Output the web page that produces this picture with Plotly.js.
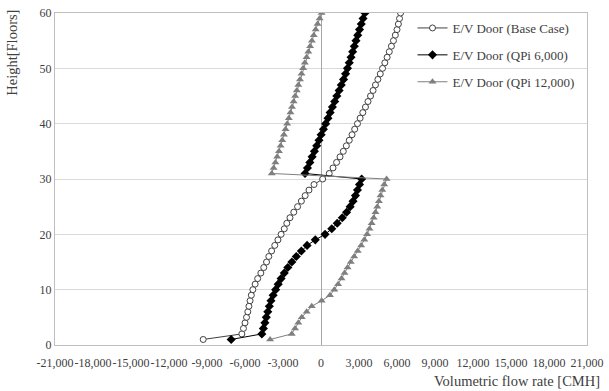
<!DOCTYPE html>
<html>
<head>
<meta charset="utf-8">
<script src="https://cdn.plot.ly/plotly-3.0.1.min.js"></script>
<style>
  html, body { margin: 0; padding: 0; background: #fff; }
  #chart { width: 609px; height: 391px; }
</style>
</head>
<body>
<div id="chart"></div>
<script>
// Floor numbers 1..60
const floors = [];
for (let f = 1; f <= 60; f++) floors.push(f);

// Volumetric flow rate through the E/V doors on each floor [CMH]
const baseCase = [
  -9300, -6250, -6120, -6000, -5880, -5780, -5690, -5600, -5500, -5380,
  -5200, -5000, -4750, -4520, -4300, -4120, -3900, -3650, -3400, -3150,
  -2900, -2700, -2450, -2150, -1850, -1550, -1250, -950, -550, 130,
  650, 950, 1230, 1500, 1760, 2000, 2230, 2450, 2660, 2880,
  3090, 3300, 3510, 3710, 3910, 4110, 4300, 4490, 4680, 4860,
  5040, 5220, 5390, 5560, 5720, 5870, 6000, 6110, 6200, 6280
];

const qpi6000 = [
  -7090, -4670, -4550, -4430, -4320, -4200, -4080, -3950, -3780, -3580,
  -3380, -3150, -2900, -2620, -2300, -1950, -1550, -1100, -450, 320,
  850, 1280, 1680, 2020, 2300, 2530, 2720, 2880, 3040, 3210,
  -1260, -1070, -880, -700, -520, -340, -160, 10, 190, 370,
  550, 720, 900, 1080, 1250, 1430, 1600, 1780, 1940, 2090,
  2230, 2370, 2500, 2630, 2760, 2900, 3040, 3180, 3320, 3470
];

const qpi12000 = [
  -4020, -2310, -2050, -1790, -1520, -1130, -730, 50, 710, 1050,
  1350, 1620, 1860, 2100, 2350, 2620, 2900, 3170, 3420, 3640,
  3830, 4000, 4160, 4300, 4440, 4570, 4700, 4840, 4990, 5180,
  -3890, -3740, -3600, -3460, -3320, -3190, -3060, -2930, -2800, -2670,
  -2540, -2410, -2290, -2160, -2040, -1910, -1790, -1660, -1540, -1410,
  -1280, -1140, -1000, -860, -720, -570, -420, -270, -110, 50
];

const seriesNames = [
  'E/V Door (Base Case)',
  'E/V Door (QPi 6,000)',
  'E/V Door (QPi 12,000)'
];

// X axis ticks
const xTickVals = [-21000, -18000, -15000, -12000, -9000, -6000, -3000, 0,
                   3000, 6000, 9000, 12000, 15000, 18000, 21000];
const xTickText = ['-21,000', '-18,000', '-15,000', '-12,000', '-9,000', '-6,000', '-3,000', '0',
                   '3,000', '6,000', '9,000', '12,000', '15,000', '18,000', '21,000'];

const xTitle = 'Volumetric flow rate [CMH]';
const yTitle = 'Height[Floors]';

const serif = 'Liberation Serif';
const textColor = '#404040';

const traces = [
  {
    x: baseCase, y: floors, name: seriesNames[0], mode: 'lines+markers',
    legendgroup: 'a',
    line: { color: '#404040', width: 1 },
    marker: { symbol: 'circle', size: 6, color: '#ffffff', line: { color: '#404040', width: 1 } }
  },
  {
    x: qpi6000, y: floors, name: seriesNames[1], mode: 'lines+markers',
    legendgroup: 'b',
    line: { color: '#000000', width: 1 },
    marker: { symbol: 'diamond', size: 7, color: '#000000' }
  },
  {
    x: qpi12000, y: floors, name: seriesNames[2], mode: 'lines+markers',
    legendgroup: 'c',
    line: { color: '#7f7f7f', width: 1 },
    marker: { symbol: 'triangle-up', size: 7, color: '#7f7f7f' }
  }
];

const layout = {
  width: 609, height: 391,
  margin: { l: 55, r: 22, t: 13, b: 46 },
  paper_bgcolor: '#ffffff',
  plot_bgcolor: '#ffffff',
  font: { family: serif, size: 12, color: textColor },
  showlegend: true,
  legend: {
    x: 0.672, xanchor: 'left', y: 1.0, yanchor: 'top',
    bgcolor: 'rgba(0,0,0,0)',
    font: { family: serif, size: 13, color: textColor },
    tracegroupgap: 7,
    itemwidth: 30
  },
  xaxis: {
    range: [-21000, 21000],
    tickvals: xTickVals, ticktext: xTickText,
    tickangle: 0,
    ticklabelstandoff: 7,
    tickfont: { family: serif, size: 12, color: textColor },
    showgrid: false,
    zeroline: true, zerolinecolor: '#a6a6a6', zerolinewidth: 1,
    showline: true, linecolor: '#bfbfbf', linewidth: 1, mirror: true,
    ticks: '', fixedrange: true
  },
  yaxis: {
    range: [0, 60], dtick: 10, tick0: 0,
    tickfont: { family: serif, size: 12, color: textColor },
    showgrid: true, gridcolor: '#d9d9d9', gridwidth: 1,
    zeroline: false,
    showline: true, linecolor: '#bfbfbf', linewidth: 1, mirror: true,
    ticks: '', fixedrange: true
  },
  // Axis titles sit at the far end of each axis
  annotations: [
    {
      text: xTitle, showarrow: false,
      xref: 'paper', yref: 'paper',
      x: 1.0285, xanchor: 'right',
      y: -0.108, yanchor: 'middle',
      font: { family: serif, size: 14.5, color: textColor }
    },
    {
      text: yTitle, showarrow: false, textangle: -90,
      xref: 'paper', yref: 'paper',
      x: -0.081, xanchor: 'center',
      y: 0.88, yanchor: 'middle',
      font: { family: serif, size: 14.5, color: textColor }
    }
  ]
};

Plotly.newPlot('chart', traces, layout, { displayModeBar: false, staticPlot: true });
</script>
</body>
</html>
